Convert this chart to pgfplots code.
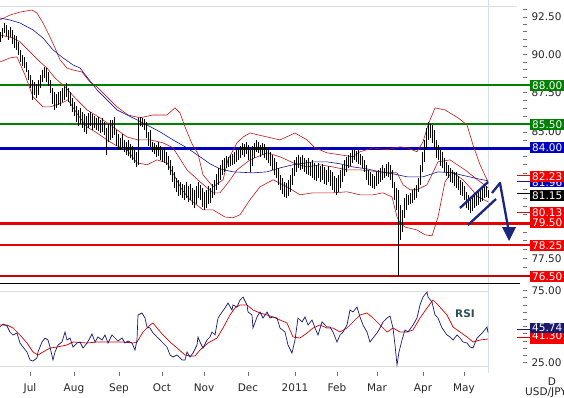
\documentclass[border=0pt]{standalone}
\usepackage{pgfplots}
\pgfplotsset{compat=1.18}
\usepackage{pgfplotstable}
\usepackage{fontspec}
\setmainfont{DejaVu Sans}
\definecolor{lvgreen}{RGB}{0,128,0}
\definecolor{lvblue}{RGB}{0,0,190}
\definecolor{lvred}{RGB}{232,0,0}
\definecolor{boxred}{RGB}{245,0,0}
\definecolor{bbred}{RGB}{190,25,25}
\definecolor{mablue}{RGB}{20,20,150}
\definecolor{rsiblue}{RGB}{25,25,110}
\definecolor{rsired}{RGB}{215,0,0}
\definecolor{navy}{RGB}{28,38,125}
\definecolor{framec}{RGB}{215,222,228}
\definecolor{rsitxt}{RGB}{47,79,79}
\newcommand\lf{\fontsize{10.5}{12}\selectfont}

\pgfplotstableread{
x h l
0 91.49 90.82
2 91.75 91.08
4 92.09 91.42
6 91.95 91.22
8 91.62 90.95
10 91.82 91.15
12 91.62 90.69
14 91.28 90.42
16 91.22 90.29
18 90.82 89.96
20 90.29 89.50
22 89.96 89.23
24 89.83 89.10
26 89.50 88.84
28 88.97 88.32
30 88.64 87.81
32 88.32 87.04
34 88.19 87.36
36 88.06 87.17
38 88.32 87.36
40 88.64 87.81
42 88.97 88.19
44 89.17 88.45
46 89.10 88.19
48 88.84 87.94
50 88.32 87.49
52 87.81 86.78
54 87.55 86.40
56 87.42 86.53
58 87.55 86.72
60 87.62 86.66
62 87.81 86.91
64 87.94 87.04
66 88.13 87.23
68 87.81 86.91
70 87.55 86.66
72 87.17 86.27
74 86.91 86.02
76 86.66 85.64
78 86.40 85.39
80 86.53 85.52
82 86.27 85.27
84 86.15 85.02
86 86.02 84.90
88 86.21 85.27
90 86.27 85.39
92 86.15 85.14
94 86.02 85.27
96 85.90 85.14
98 85.96 85.08
100 85.77 84.95
102 85.90 85.02
104 85.64 84.83
106 85.27 83.60
108 85.52 84.40
110 85.77 84.52
112 85.77 84.64
114 85.96 84.83
116 85.14 84.15
118 84.89 83.91
120 84.64 83.91
122 84.89 84.03
124 84.52 83.79
126 84.40 83.60
128 84.52 83.54
130 84.28 83.41
132 84.15 83.29
134 83.91 83.11
136 83.79 82.86
138 85.90 82.99
140 85.96 85.39
142 85.90 85.33
144 85.83 85.14
146 85.64 84.64
148 85.02 84.15
150 85.14 84.09
152 84.40 83.79
154 84.34 83.66
156 84.21 83.48
158 84.40 83.54
160 84.15 83.29
162 83.91 83.17
164 84.03 83.11
166 83.79 82.99
168 83.54 82.68
170 83.29 82.38
172 82.93 81.96
174 82.56 81.60
176 82.20 81.36
178 82.08 81.12
180 81.96 81.18
182 81.84 81.00
184 81.78 80.89
186 81.96 81.00
188 81.72 80.77
190 81.84 80.89
192 81.60 80.59
194 81.48 80.41
196 81.72 80.65
198 81.96 81.00
200 81.78 80.89
202 81.60 80.47
204 81.36 80.29
206 81.48 80.41
208 81.72 80.65
210 81.60 80.71
212 81.84 81.00
214 82.08 81.18
216 82.44 81.48
218 82.80 81.78
220 82.99 82.08
222 83.29 82.38
224 83.41 82.56
226 83.54 82.80
228 83.48 82.86
230 83.60 82.93
232 83.66 82.99
234 83.79 83.05
236 83.91 83.17
238 83.97 83.29
240 84.15 83.41
242 84.34 83.60
244 84.28 83.48
246 84.40 83.66
248 84.21 83.29
250 83.91 82.56
252 84.15 82.93
254 84.34 83.41
256 84.52 83.79
258 84.40 83.72
260 84.21 83.48
262 84.34 83.60
264 84.28 83.41
266 84.09 83.29
268 83.91 83.11
270 83.79 82.93
272 83.60 82.68
274 83.41 82.38
276 83.17 82.20
278 82.80 81.78
280 82.38 81.48
282 82.20 81.24
284 81.96 81.06
286 81.90 81.00
288 82.08 81.12
290 82.38 81.36
292 82.80 81.78
294 83.29 82.32
296 83.48 82.56
298 83.60 82.80
300 83.48 82.68
302 83.60 82.74
304 83.41 82.56
306 83.29 82.44
308 83.41 82.38
310 83.17 82.32
312 83.29 82.20
314 83.11 82.08
316 82.99 82.02
318 83.11 82.20
320 82.93 81.96
322 83.05 82.08
324 82.86 81.84
326 82.68 81.78
328 82.93 81.96
330 82.68 81.72
332 82.56 81.48
334 82.32 81.36
336 82.20 81.18
338 82.38 81.36
340 82.68 81.60
342 82.99 81.96
344 83.29 82.32
346 83.48 82.56
348 83.60 82.80
350 83.72 82.93
352 83.91 83.11
354 83.97 83.29
356 83.85 83.17
358 83.91 83.05
360 83.66 82.99
362 83.54 82.80
364 83.29 82.56
366 82.99 82.08
368 82.68 81.78
370 82.56 81.72
372 82.44 81.60
374 82.32 81.54
376 82.56 81.72
378 82.68 81.84
380 82.80 81.96
382 82.99 82.08
384 82.80 82.20
386 83.05 82.32
388 83.17 82.26
390 82.99 82.08
392 82.68 81.60
394 81.96 80.89
396 81.60 80.29
398 81.48 76.50
400 80.59 78.55
402 80.29 79.01
404 81.00 79.83
406 81.24 80.29
408 81.18 80.59
410 81.30 80.65
412 81.48 80.71
414 81.60 80.89
416 81.78 81.00
418 82.20 81.36
420 82.99 81.78
422 83.79 82.56
424 84.52 83.17
426 85.27 84.03
428 85.64 84.52
430 85.52 84.64
432 85.45 84.34
434 85.14 84.03
436 84.52 83.41
438 84.21 83.29
440 83.91 82.93
442 83.79 82.80
444 83.41 82.56
446 83.17 82.32
448 82.99 82.20
450 82.80 81.96
452 82.68 81.90
454 82.56 81.72
456 82.56 81.60
458 82.32 81.48
460 82.08 81.18
462 81.96 81.12
464 81.72 80.89
466 81.36 80.41
468 81.18 80.29
470 81.00 80.12
472 81.12 80.23
474 81.24 80.41
476 81.36 80.53
478 81.48 80.59
480 81.60 80.77
482 81.72 80.83
484 81.84 81.00
486 81.72 81.06
488 81.48 81.00
}\pricetab

\begin{document}
\begin{tikzpicture}
\useasboundingbox (0pt,0pt) rectangle (564pt,397pt);
\begin{scope}[x=1pt,y=1pt]
\draw[framec, line width=0.8pt] (0,391) -- (517,391);
\draw[framec, line width=0.8pt] (0,106) -- (488,106);
\draw[framec, line width=0.8pt] (0,31) -- (488,31);
\draw[framec, line width=0.8pt] (488,24) -- (488,397);
\end{scope}

\begin{axis}[
  at={(0pt,114pt)}, anchor=south west,
  scale only axis, width=523pt, height=277pt,
  xmin=0, xmax=523, ymode=log, ymin=76.11, ymax=93.25,
  axis x line=none, axis y line*=right,
  y axis line style={draw=none},
  ytick={77.5,85,87.5,90,92.5},
  yticklabels={77.50,85.00,87.50,90.00,92.50},
  minor ytick={76.5,77,78,78.5,79,79.5,80,80.5,81,81.5,82,82.5,83,83.5,84,84.5,85.5,86,86.5,87,88,88.5,89,89.5,90.5,91,91.5,92,93},
  tick align=outside, major tick length=4pt, minor tick length=4pt,
  tick style={black!55, line width=0.7pt},
  yticklabel style={font=\lf, text=black!85, xshift=1pt},
  clip=false]
\addplot[lvgreen, line width=2.4pt] coordinates {(0,88)(531,88)};
\addplot[lvgreen, line width=2.4pt] coordinates {(0,85.5)(531,85.5)};
\addplot[lvblue, line width=2.4pt] coordinates {(0,84)(531,84)};
\addplot[lvred, line width=2.2pt] coordinates {(0,79.5)(531,79.5)};
\addplot[lvred, line width=2.2pt] coordinates {(0,78.25)(531,78.25)};
\addplot[lvred!85!black, line width=2.2pt] coordinates {(0,76.5)(531,76.5)};
% upper band
\addplot[bbred, line width=0.6pt] coordinates {
(0,92.29)(10,92.63)(20,92.83)(32,92.97)(37,92.76)(43,92.09)(50,91.15)(55,90.42)(60,89.63)(67,89.10)(73,88.97)(82,88.84)(90,88.19)(97,87.87)(107,87.23)(117,86.59)(128,86.08)(140,85.90)(153,86.08)(167,86.08)(175,86.53)(180,86.21)(185,85.33)(192,84.28)(198,83.66)(203,82.38)(213,81.66)(223,82.08)(228,83.29)(237,84.34)(243,84.70)(250,84.95)(267,84.70)(280,84.52)(295,84.95)(307,84.52)(315,84.03)(327,83.72)(340,83.60)(353,83.48)(360,83.79)(373,84.03)(387,83.91)(400,84.09)(407,84.03)(417,83.79)(423,84.40)(428,85.45)(435,86.53)(445,86.40)(458,85.90)(467,85.45)(473,84.21)(480,82.99)(488,81.96)};
% middle band
\addplot[bbred, line width=0.6pt] coordinates {
(0,91.28)(13,91.08)(20,90.82)(30,90.16)(40,89.50)(47,89.10)(55,88.45)(65,87.87)(77,87.04)(87,86.40)(100,85.90)(113,85.33)(127,84.70)(138,84.52)(150,84.52)(163,84.34)(173,84.03)(187,82.68)(200,81.96)(213,81.30)(220,81.30)(228,81.90)(237,82.68)(250,83.29)(267,83.72)(280,83.48)(293,83.11)(307,82.86)(320,82.99)(333,82.86)(347,82.68)(360,82.68)(380,82.56)(397,82.50)(403,81.78)(410,81.48)(417,81.48)(427,81.78)(438,83.17)(450,83.29)(465,82.68)(475,82.20)(488,81.60)};
% lower band
\addplot[bbred, line width=0.6pt] coordinates {
(0,89.50)(10,89.76)(17,89.83)(25,88.64)(33,87.23)(43,86.59)(50,86.59)(62,86.85)(68,87.04)(78,86.08)(87,85.33)(97,84.95)(107,84.52)(115,84.21)(127,83.91)(137,83.11)(147,82.99)(157,83.29)(167,83.11)(175,82.26)(182,81.48)(190,80.89)(203,80.29)(213,80.29)(225,79.88)(233,79.83)(240,80.00)(250,80.89)(260,81.66)(273,82.08)(287,81.66)(300,81.18)(313,81.30)(333,81.30)(347,81.36)(360,81.18)(373,81.18)(383,81.30)(392,81.06)(397,79.88)(400,79.54)(405,79.30)(417,79.13)(425,78.84)(432,78.78)(438,79.88)(445,81.96)(452,82.56)(463,82.08)(472,81.48)(478,81.06)(488,80.77)};
% blue moving average
\addplot[mablue, line width=0.6pt] coordinates {
(0,92.43)(10,92.29)(20,92.09)(33,91.62)(43,91.08)(53,90.29)(63,89.76)(73,89.30)(80,89.10)(87,88.51)(97,87.68)(107,87.04)(117,86.40)(127,86.08)(137,85.77)(147,85.45)(160,85.02)(173,84.52)(187,84.03)(200,83.48)(210,83.05)(220,82.74)(233,82.56)(253,82.50)(267,82.56)(280,82.80)(293,82.99)(313,83.17)(327,83.17)(340,83.05)(353,82.86)(367,82.74)(380,82.56)(393,82.44)(407,82.26)(423,82.26)(438,82.56)(452,82.50)(465,82.32)(478,82.14)(488,82.02)};
% price bars (high-low)
\addplot[draw=none, mark=none,
  error bars/.cd, y dir=plus, y explicit, error mark=none,
  error bar style={draw=black, line width=0.9pt}]
  table[x=x, y=l, y error expr=\thisrow{h}-\thisrow{l}] {\pricetab};
\end{axis}

\begin{axis}[
  at={(0pt,25pt)}, anchor=south west,
  scale only axis, width=523pt, height=88pt,
  xmin=0, xmax=523, ymin=18.40, ymax=79.51,
  axis x line*=bottom, axis y line*=right,
  x axis line style={draw=none}, y axis line style={draw=none},
  xtick={30,74,119,162,204,248,295,337,377,423,464},
  xticklabels={Jul,Aug,Sep,Oct,Nov,Dec,2011,Feb,Mar,Apr,May},
  ytick={25,75}, yticklabels={25.00,75.00},
  minor ytick={30,35,40,45,50,55,60,65,70},
  tick align=outside, major tick length=4pt, minor tick length=4pt,
  tick style={black!55, line width=0.7pt},
  ticklabel style={font=\lf, text=black!85},
  xticklabel style={yshift=-4pt}, yticklabel style={xshift=1pt},
  clip=false]
\addplot[rsired, line width=0.7pt] coordinates {
(0,51.04)(7,51.04)(13,48.96)(20,44.10)(27,38.54)(33,32.29)(38,30.21)(43,32.29)(50,35.07)(57,35.76)(67,37.15)(73,39.24)(87,38.54)(97,39.24)(110,39.24)(123,39.24)(133,38.54)(137,39.24)(143,46.18)(150,51.04)(153,52.43)(157,48.96)(163,44.10)(170,39.24)(177,35.07)(185,30.21)(190,29.51)(195,29.51)(200,33.68)(208,38.54)(217,42.01)(223,48.96)(230,57.99)(235,62.85)(240,64.93)(247,64.93)(253,61.46)(260,59.38)(267,57.99)(273,56.60)(280,54.51)(287,52.43)(293,42.71)(300,42.01)(307,45.49)(313,48.96)(320,51.04)(327,48.96)(333,48.96)(340,46.18)(347,48.96)(353,53.13)(360,57.99)(367,59.38)(373,55.90)(380,51.04)(387,46.18)(393,48.96)(400,46.18)(407,46.18)(413,47.57)(420,55.90)(427,62.85)(433,68.40)(438,64.93)(447,57.99)(453,49.65)(460,46.18)(467,42.71)(473,39.24)(480,40.63)(488,41.30)};
\addplot[rsiblue, line width=0.7pt] coordinates {
(0,49.65)(3,51.74)(7,50.35)(10,46.18)(13,44.10)(17,45.49)(20,38.54)(23,35.76)(27,32.29)(30,26.74)(33,26.04)(37,28.13)(38,32.29)(42,39.24)(45,42.01)(48,40.63)(50,35.76)(53,26.74)(55,32.29)(58,37.15)(62,39.24)(65,46.18)(67,40.63)(70,42.01)(73,35.76)(77,38.54)(80,39.24)(83,35.07)(87,38.54)(90,42.01)(92,44.79)(95,39.24)(98,42.71)(102,40.63)(105,44.10)(108,38.54)(112,44.10)(115,42.01)(118,39.93)(122,42.01)(125,38.54)(128,39.93)(132,38.54)(135,33.68)(137,40.63)(138,57.99)(142,59.38)(145,55.90)(147,49.65)(150,48.96)(153,45.49)(157,42.71)(160,40.63)(163,38.54)(167,35.76)(170,30.21)(173,28.82)(177,30.21)(182,26.74)(185,26.74)(187,32.29)(190,28.82)(193,31.60)(197,37.15)(198,42.71)(200,39.24)(203,35.07)(207,40.63)(210,42.71)(212,46.18)(215,44.10)(218,55.90)(222,60.07)(225,62.85)(228,66.32)(232,61.46)(233,64.93)(237,63.54)(240,68.40)(243,70.49)(247,64.93)(248,60.07)(252,57.99)(253,48.96)(257,56.60)(260,60.07)(263,55.90)(267,60.07)(270,55.90)(273,56.60)(277,55.90)(280,48.96)(285,46.18)(288,37.15)(292,31.60)(295,40.63)(298,55.90)(302,53.13)(305,56.60)(308,51.04)(312,54.51)(315,48.96)(318,44.10)(322,53.13)(327,49.65)(330,49.65)(333,46.18)(337,39.24)(340,44.10)(343,46.18)(347,51.04)(350,61.46)(353,60.07)(357,63.54)(360,56.60)(363,51.04)(367,46.18)(370,39.24)(373,42.01)(377,45.49)(380,48.96)(383,53.13)(387,55.90)(390,57.29)(393,48.96)(395,37.15)(397,23.26)(399,32.29)(402,40.63)(405,47.57)(408,46.18)(413,51.04)(417,55.90)(420,64.93)(423,70.49)(427,73.96)(428,70.49)(432,67.01)(435,57.99)(438,55.90)(442,48.96)(447,44.10)(450,42.71)(453,40.63)(457,44.10)(460,42.01)(463,39.24)(467,38.54)(470,35.76)(473,35.07)(477,42.01)(480,44.10)(483,46.18)(487,49.65)(488,45.74)};
\end{axis}

\begin{scope}[x=1pt,y=1pt]
\draw[black, line width=0.8pt] (0,114) -- (520,114);
% annotation
\draw[navy, line width=2.3pt] (460,189) -- (488,215);
\draw[navy, line width=2.3pt] (468,172) -- (496,198);
\draw[navy, line width=2.3pt, line join=round] (492,204) -- (500,214) -- (508,170);
\fill[navy] (502,170) -- (516,170) -- (509,156) -- cycle;
% value markers
\draw[bbred, line width=0.8pt] (517,222) -- (530,222);
\draw[mablue, line width=0.8pt] (517,216) -- (530,216);
\draw[black, line width=0.8pt] (517,204) -- (530,204);
\draw[bbred, line width=0.8pt] (517,185) -- (530,185);
\draw[rsiblue, line width=0.8pt] (517,68) -- (530,68);
\draw[rsired, line width=0.8pt] (517,60) -- (530,60);
% boxes
\newcommand\pbox[5]{\fill[#1] (530,#2) rectangle (570,#3);
  \node[anchor=west, inner sep=0pt, text=white, font=\lf] at (532,#5) {#4};}
\pbox{lvgreen}{306}{317}{88.00}{311.5}
\pbox{lvgreen}{267}{278}{85.50}{272.5}
\pbox{lvblue}{244}{255}{84.00}{249.5}
\pbox{lvblue}{210}{219}{81.96}{214.5}
\pbox{boxred}{215}{226}{82.23}{220.5}
\pbox{black}{196}{207}{81.15}{201.5}
\pbox{boxred}{179}{190}{80.13}{184.5}
\pbox{boxred}{169}{180}{79.50}{174.5}
\pbox{boxred}{146}{157}{78.25}{151.5}
\pbox{boxred}{115}{126}{76.50}{120.5}
\pbox{boxred}{53}{65}{41.30}{61}
\pbox{rsiblue}{64}{74}{45.74}{69}
\node[font=\fontsize{10.5}{12}\selectfont\bfseries, text=rsitxt] at (465,83) {RSI};
\node[font=\lf, text=black!85] at (552,15) {D};
\node[font=\lf, text=black!85, anchor=west, inner sep=0pt] at (525,4) {USD/JPY};
\end{scope}
\end{tikzpicture}
\end{document}
